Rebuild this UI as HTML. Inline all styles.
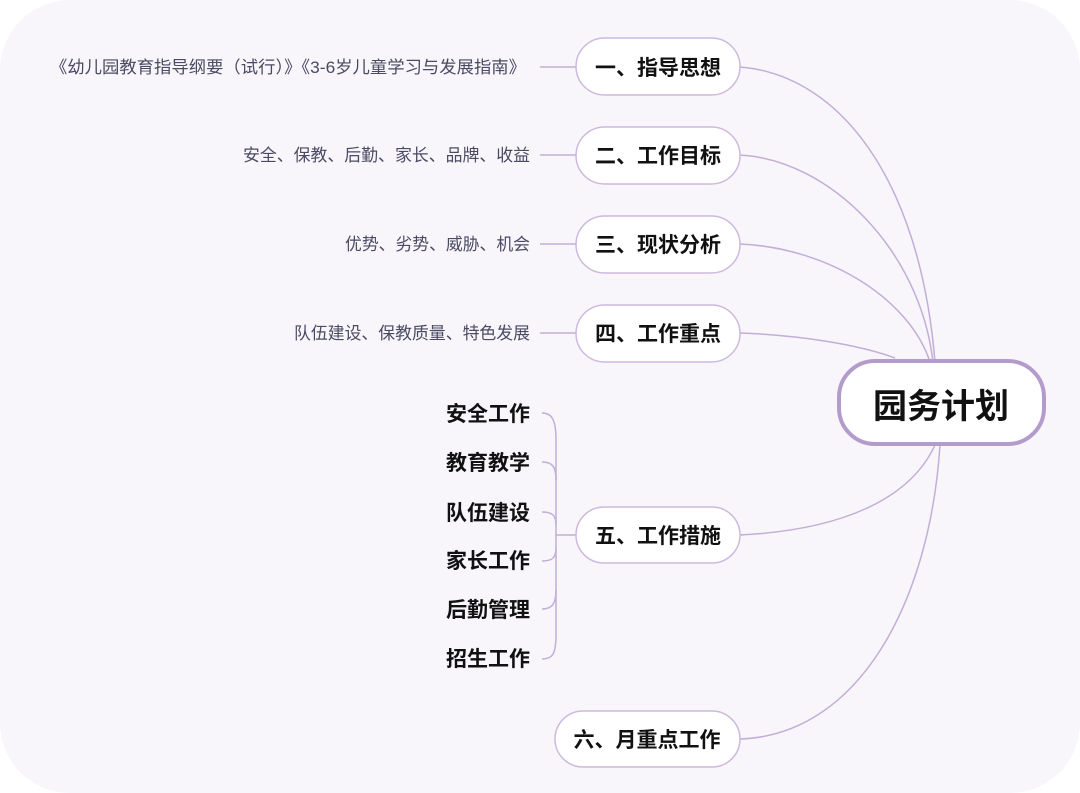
<!DOCTYPE html>
<html><head><meta charset="utf-8"><style>
html,body{margin:0;padding:0;background:#fff;}
svg{display:block}
text{font-family:"Liberation Sans","Noto Sans CJK SC",sans-serif;}
</style></head><body>
<svg width="1080" height="793" viewBox="0 0 1080 793" xmlns="http://www.w3.org/2000/svg">
<rect x="0" y="0" width="1080" height="793" rx="70" fill="#f8f6fb"/>
<g fill="none" stroke="#c2aed6" stroke-width="1.5">
<path d="M740 67 C840 75 920 180 935 362"/>
<path d="M740 155 C830 160 920 250 933 362"/>
<path d="M740 244 C830 248 910 300 930 362"/>
<path d="M740 333 C800 335 860 345 895 358"/>
<path d="M740 535 C840 530 910 500 935 445"/>
<path d="M740 739 C860 735 930 600 940 445"/>
<path d="M540 67 H576 M540 155 H576 M540 244 H576 M540 333 H576"/>
<path d="M556 535 H576"/>
<path d="M542 413 C552 413 556 420 556 440 V635 C556 655 552 659 542 659"/>
<path d="M542 462 C552 462 556 466 556 480 M542 512 C552 512 556 515 556 525 M542 561 C552 561 556 558 556 548 M542 609 C552 609 556 604 556 590"/>
</g>
<g fill="#fff" stroke="#cdb9de" stroke-width="1.5">
<rect x="576" y="38" width="164" height="57" rx="28.5"/>
<rect x="576" y="127" width="164" height="57" rx="28.5"/>
<rect x="576" y="216" width="164" height="57" rx="28.5"/>
<rect x="576" y="305" width="164" height="57" rx="28.5"/>
<rect x="576" y="507" width="164" height="56" rx="28"/>
<rect x="555" y="711" width="185" height="56" rx="28"/>
</g>
<rect x="839" y="361" width="205" height="83" rx="36" fill="#fff" stroke="#b39ccb" stroke-width="4"/>
<g font-size="21" font-weight="bold" fill="#111" text-anchor="middle">
<text x="658" y="75">一、指导思想</text>
<text x="658" y="163">二、工作目标</text>
<text x="658" y="252">三、现状分析</text>
<text x="658" y="341">四、工作重点</text>
<text x="658" y="543">五、工作措施</text>
<text x="647" y="747">六、月重点工作</text>
</g>
<text x="941" y="418" font-size="34" font-weight="bold" fill="#111" text-anchor="middle">园务计划</text>
<g font-size="17" fill="#4a4a62">
<text x="50" y="73" textLength="476" lengthAdjust="spacingAndGlyphs">《幼儿园教育指导纲要（试行）》《3-6岁儿童学习与发展指南》</text>
<text x="243" y="161" textLength="287" lengthAdjust="spacingAndGlyphs">安全、保教、后勤、家长、品牌、收益</text>
<text x="345" y="250" textLength="185" lengthAdjust="spacingAndGlyphs">优势、劣势、威胁、机会</text>
<text x="294" y="339" textLength="236" lengthAdjust="spacingAndGlyphs">队伍建设、保教质量、特色发展</text>
</g>
<g font-size="21" font-weight="bold" fill="#111" text-anchor="end">
<text x="530" y="421">安全工作</text>
<text x="530" y="470">教育教学</text>
<text x="530" y="520">队伍建设</text>
<text x="530" y="568">家长工作</text>
<text x="530" y="617">后勤管理</text>
<text x="530" y="666">招生工作</text>
</g>
</svg>
</body></html>
